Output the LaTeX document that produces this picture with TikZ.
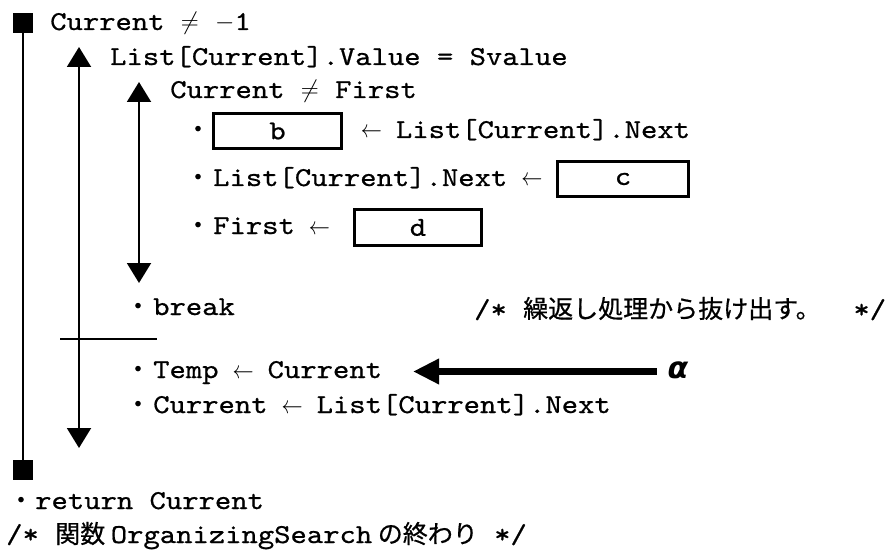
\documentclass[tikz,border=0pt]{standalone}
\usepackage{fontspec}
\usepackage{graphicx}
\newfontfamily\mono{lmmono10-regular}[Extension=.otf, FakeStretch=1.14, FakeBold=0.7]
\newfontfamily\grk{DejaVu Sans}
\newfontfamily\cjk{Noto Sans CJK JP}[FakeBold=0.6]
% one monospaced cell holding a thin left arrow
\newcommand\codearrow{\makebox[16.4pt]{\scalebox{0.85}[1]{$\leftarrow$}}}
\newcommand\codene{\ensuremath{\neq}}
\newcommand\codeminus{\ensuremath{-}}
\usetikzlibrary{arrows.meta}
\begin{document}
\begin{tikzpicture}[x=1pt,y=-1pt,
  code/.style={font=\mono\fontsize{27.3}{30}\selectfont, inner sep=0pt, anchor=base west},
  midot/.style={font=\cjk\fontsize{25}{28}\selectfont, inner sep=0pt, anchor=center},
  blank/.style={draw, line width=2.8pt, inner sep=0pt,
    font=\mono\fontsize{27.3}{30}\selectfont, minimum height=35.5pt},
  loopend/.style={fill, minimum size=20pt, inner sep=0pt},
  loopline/.style={line width=2pt},
  twoway/.style={line width=2pt,
    {Triangle[length=20pt,width=24pt]}-{Triangle[length=20pt,width=24pt]}},
  pointer/.style={line width=7pt, -{Triangle[length=26pt,width=24pt]}}
]
\useasboundingbox (0,0) rectangle (894,556);

% outer loop: Current != -1
\node[loopend] (sqTop) at (23,23) {};
\node[loopend] (sqBot) at (23,470) {};
\draw[loopline] (sqTop) -- (sqBot);
\node[code] (r1) at (50,30) {Current \codene{} \codeminus{}1};

% middle loop
\coordinate (midTop) at (79,47);
\coordinate (midBot) at (79,448);
\draw[twoway] (midTop) -- (midBot);
\node[code] (r2) at (110,65) {List[Current].Value = Svalue};

% inner selection
\coordinate (inTop) at (139,82);
\coordinate (inBot) at (139,283);
\draw[twoway] (inTop) -- (inBot);
\node[code] (r3) at (170,98) {Current \codene{} First};

% blank b
\node[midot] (db) at (198,132) {・};
\node[blank, minimum width=128pt] (bb) at (277.5,131) {b};
\node[code] (rb) at (363,138) {\codearrow{} List[Current].Next};

% blank c
\node[midot] (dc) at (198,180) {・};
\node[code] (rc) at (213,186) {List[Current].Next \codearrow};
\node[blank, minimum width=131pt] (bc) at (623,179) {c};

% blank d
\node[midot] (dd) at (198,228) {・};
\node[code] (rd) at (213,234) {First \codearrow};
\node[blank, minimum width=127pt] (bd) at (418,227.5) {d};

% break and its comment
\node[midot] (dbr) at (138,309) {・};
\node[code] (rbr) at (153,315) {break};
\node[code] (cm1) at (474,318) {/* {\cjk\fontsize{25}{28}\selectfont 繰返し処理から抜け出す。}\ \ */};

% separator of the selection
\coordinate (sepL) at (60,339);
\coordinate (sepR) at (157,339);
\draw[loopline] (sepL) -- (sepR);

% loop body after the selection
\node[midot] (dt) at (138,372) {・};
\node[code] (rt) at (153,378) {Temp \codearrow{} Current};
\node[midot] (dn) at (138,407) {・};
\node[code] (rn) at (153,413) {Current \codearrow{} List[Current].Next};

% marker alpha
\node[inner xsep=11pt, inner ysep=0pt, font=\grk\bfseries\itshape\fontsize{30}{32}\selectfont] (alpha) at (678,370) {α};
\coordinate (tipA) at (413,371.5);
\draw[pointer] (alpha.west |- tipA) -- (tipA);

% end of function
\node[midot] (dr) at (21,503) {・};
\node[code] (rr) at (35,509) {return Current};
\node[code] (cm2) at (6,543) {/* {\cjk\fontsize{25}{28}\selectfont 関数 }OrganizingSearch{\cjk\fontsize{25}{28}\selectfont \ の終わり} */};
\end{tikzpicture}
\end{document}
